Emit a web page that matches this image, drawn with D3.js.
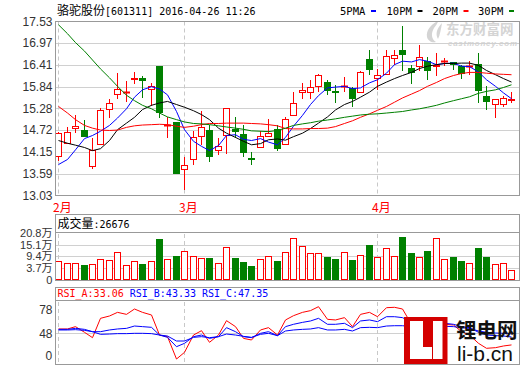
<!DOCTYPE html>
<html>
<head>
<meta charset="utf-8">
<script src="https://cdn.jsdelivr.net/npm/d3@7/dist/d3.min.js"></script>
<style>
  body { margin: 0; background: #fff; }
  svg { display: block; }
  text { font-family: "Liberation Sans", Arial, sans-serif; }
</style>
</head>
<body>
<div id="chart"></div>
<script>
// daily K-line, 2016-02 .. 2016-04-26
const opens  = [14.02,14.37,14.74,14.71,13.76,14.33,15.23,15.62,15.68,16.02,16.07,15.75,16.37,14.83,14.94,
                13.68,13.94,14.53,14.71,14.17,14.56,14.75,14.62,14.01,14.26,14.53,14.75,14.33,15.08,15.67,
                15.67,15.82,15.95,15.74,15.82,15.81,15.67,16.55,16.05,16.13,16.55,16.78,16.32,16.34,16.51,
                16.35,16.49,16.47,16.37,16.34,16.43,15.59,15.38,15.38,15.48];
const highs  = [14.66,14.80,15.10,14.98,14.52,15.29,15.52,16.19,15.98,16.22,16.11,15.93,16.37,15.07,14.94,
                14.02,14.69,15.20,14.84,14.52,15.28,15.06,14.84,14.15,14.69,15.01,14.84,15.07,15.70,15.93,
                16.01,16.17,16.01,15.89,16.08,15.82,16.24,16.79,16.29,16.80,16.79,17.40,16.41,16.91,16.60,
                16.71,16.58,16.48,16.41,16.51,16.71,15.85,15.51,15.59,15.70];
const lows   = [13.93,14.37,14.64,14.54,13.72,14.33,15.03,15.51,15.44,15.91,15.55,15.33,15.03,14.51,13.58,
                13.16,13.83,14.34,13.89,14.08,14.11,14.52,14.03,13.83,14.26,14.53,14.17,14.33,15.08,15.53,
                15.51,15.70,15.63,15.43,15.70,15.32,15.67,16.13,15.76,16.13,16.41,16.25,15.92,16.24,16.01,
                16.11,16.37,16.26,16.05,16.13,15.41,15.25,15.03,15.32,15.42];
const closes = [14.64,14.66,14.83,14.54,14.21,15.23,15.41,15.77,15.71,16.06,15.98,15.87,15.16,14.86,13.58,
                13.81,14.53,14.79,14.02,14.30,15.28,14.66,14.12,13.99,14.56,14.64,14.24,15.01,15.41,15.75,
                15.82,16.13,15.72,15.70,15.85,15.53,16.22,16.26,16.13,16.63,16.65,16.65,16.19,16.62,16.24,
                16.41,16.51,16.41,16.17,16.38,15.72,15.44,15.51,15.54,15.51];

// moving averages
const ma5  = [13.83,13.96,14.21,14.50,14.58,14.69,14.84,15.03,15.27,15.57,15.76,15.84,15.78,15.63,15.20,
              14.73,14.43,14.30,14.19,14.32,14.58,14.60,14.48,14.45,14.50,14.41,14.34,14.53,14.82,15.10,
              15.38,15.61,15.81,15.83,15.85,15.79,15.81,15.94,16.02,16.19,16.41,16.50,16.48,16.54,16.50,
              16.41,16.44,16.45,16.37,16.36,16.22,16.02,15.85,15.68,15.53];
const ma10 = [14.45,14.38,14.33,14.27,14.19,14.24,14.45,14.73,14.90,15.05,15.25,15.36,15.42,15.46,15.38,
              15.31,15.22,15.12,14.99,14.77,14.64,14.53,14.43,14.34,14.37,14.47,14.49,14.46,14.55,14.64,
              14.76,14.90,15.06,15.24,15.38,15.46,15.57,15.70,15.85,15.96,16.05,16.13,16.21,16.31,16.37,
              16.41,16.44,16.44,16.45,16.45,16.39,16.26,16.15,16.05,15.96];
const ma20 = [15.33,15.16,14.99,14.84,14.77,14.72,14.71,14.72,14.79,14.83,14.85,14.86,14.87,14.86,14.82,
              14.79,14.82,14.86,14.89,14.89,14.90,14.90,14.90,14.89,14.88,14.86,14.83,14.76,14.75,14.75,
              14.76,14.76,14.77,14.81,14.89,14.96,15.05,15.14,15.23,15.33,15.44,15.55,15.65,15.74,15.85,
              15.95,16.05,16.13,16.18,16.21,16.21,16.19,16.17,16.16,16.15];
const ma30 = [17.44,17.21,16.98,16.76,16.53,16.30,16.07,15.85,15.62,15.48,15.36,15.27,15.16,15.06,14.99,
              14.93,14.89,14.88,14.86,14.83,14.80,14.77,14.74,14.70,14.69,14.68,14.71,14.77,14.84,14.88,
              14.91,14.95,14.98,15.01,15.05,15.08,15.11,15.13,15.14,15.16,15.18,15.20,15.24,15.27,15.31,
              15.36,15.42,15.48,15.53,15.58,15.67,15.72,15.76,15.82,15.89];

// volume, 万手
const volumes = [7.18,6.05,6.05,5.25,5.73,7.98,7.50,11.36,5.08,7.02,5.73,7.02,17.80,7.98,9.59,
                 12.01,9.43,8.47,8.63,6.05,13.78,8.63,6.69,4.76,7.98,9.43,7.18,11.36,18.13,14.26,
                 10.88,10.88,9.11,8.14,11.36,7.66,9.91,14.91,8.95,13.30,9.43,18.77,11.04,8.95,12.01,
                 18.13,7.98,9.11,7.18,6.05,13.46,9.11,5.57,6.05,2.6676];

// RSI
const rsiA = [53.6,53.6,56.6,49.3,42.4,67.3,70.3,75.0,72.4,79.3,75.0,71.6,45.8,43.7,14.9,
              23.5,45.8,51.4,36.4,45.8,64.3,56.6,41.5,39.4,52.3,55.3,45.8,65.2,70.7,75.0,
              77.2,82.3,66.0,65.2,68.2,56.6,72.4,75.0,69.4,81.0,81.5,79.3,59.6,68.2,58.7,
              60.9,59.6,58.7,50.1,45.8,35.1,28.7,29.5,31.7,33.06];
const rsiB = [53.1,53.1,54.4,53.1,50.1,50.1,52.3,53.6,54.4,57.4,56.6,55.7,45.8,42.8,30.8,
              35.1,43.7,45.8,41.5,43.7,55.3,50.1,43.7,42.4,48.0,50.1,45.0,56.6,59.6,62.1,
              63.9,67.3,59.6,59.6,60.9,55.3,63.9,65.2,63.0,69.4,69.4,68.2,62.1,65.2,60.9,
              62.1,60.9,59.6,56.6,55.3,49.3,45.8,45.0,44.5,43.33];
const rsiC = [52.3,52.3,52.7,51.8,50.1,46.7,47.1,47.6,47.6,48.0,48.0,47.6,45.8,44.5,38.1,
              38.1,42.8,43.7,42.4,43.7,47.1,45.8,44.1,42.8,46.7,48.0,45.0,51.0,52.3,53.1,
              53.6,55.3,52.3,52.3,53.1,51.0,55.3,55.7,55.3,57.4,57.8,57.8,56.6,57.8,56.6,
              57.4,57.0,56.6,55.3,54.4,51.0,49.3,48.4,48.0,47.35];

const priceTicks = [13.03,13.59,14.15,14.72,15.28,15.84,16.41,16.97,17.53];
const volTicks = [3.7,9.4,15.1,20.8];
const rsiTicks = [78,48];
const monthLabels = ['2月','3月','4月'];
const monthStart = [0,15,38];
const maNames = ['5PMA','10PM','20PM','30PM'];
const maColors = ['#0000ff','#000000','#ff0000','#008000'];

const width = 520, height = 365;
const left = 55.5, right = 519.5;
const RED = '#ff0000', GREEN = '#008000', FRAME = '#999', GRID = '#d0d0d0';

const svg = d3.select('#chart').append('svg')
    .attr('width', width).attr('height', height)
    .attr('viewBox', [0, 0, width, height]);

const n = closes.length;
const x = d3.scaleBand()
    .domain(d3.range(n))
    .range([54.3, 54.3 + n * 8.385])
    .paddingInner(0.2).paddingOuter(0.1);
const cx = i => Math.round(x(i) + x.bandwidth() / 2) + 0.5;

const y = d3.scaleLinear().domain([13.03, 17.53]).range([195.5, 21.3]);
const yv = d3.scaleLinear().domain([-2.0, 20.8]).range([280, 232.8]);
const yr = d3.scaleLinear().domain([0, 100]).range([370.6, 292.93]);

// watermark
const wm = svg.append('g').attr('fill', '#d4d4d4');
wm.append('path')
    .attr('d', 'M438,21 C430,25 426,31 427,37 C428,41 432,43 436,42 C431,39 431,33 434,28 C436,25 438,23 438,21 Z M442,23 C437,28 435,34 438,39 C440,35 441,29 442,23 Z');
wm.append('text').attr('x', 446).attr('y', 33.5)
    .style('font-family', '"Noto Sans CJK SC"').attr('font-size', 13.5).attr('font-weight', 'bold')
    .text('东方财富网');
wm.append('text').attr('x', 448).attr('y', 46)
    .attr('font-size', 8).attr('font-weight', 'bold').attr('font-style', 'italic')
    .attr('textLength', 69)
    .text('eastmoney.com');

// title and legend
const title = svg.append('text').attr('x', 57).attr('y', 15).attr('fill', '#000');
title.append('tspan').style('font-family', '"Noto Sans CJK SC"').attr('font-size', 12).text('骆驼股份');
title.append('tspan').style('font-family', '"DejaVu Sans Mono"').attr('font-size', 10).text('[601311] 2016-04-26 11:26');

const legX = [340, 386.5, 432.5, 478];
maNames.forEach((m, k) => {
  svg.append('text').attr('x', legX[k]).attr('y', 15)
      .style('font-family', '"DejaVu Sans Mono"').attr('font-size', 10.5).text(m);
  svg.append('rect').attr('x', legX[k] + 31).attr('y', 10).attr('width', 5).attr('height', 2)
      .attr('fill', maColors[k]);
});

// ---------- price panel
const gridP = svg.append('g');
gridP.selectAll('line').data(priceTicks.slice(1, -1)).join('line')
    .attr('x1', left).attr('x2', right)
    .attr('y1', d => Math.round(y(d)) + 0.5).attr('y2', d => Math.round(y(d)) + 0.5)
    .attr('stroke', GRID);

function monthLines(top, bottom) {
  svg.append('g').selectAll('line').data(monthStart).join('line')
      .attr('x1', d => cx(d)).attr('x2', d => cx(d))
      .attr('y1', top).attr('y2', bottom)
      .attr('stroke', '#c8c8c8').attr('stroke-dasharray', '4,3');
}
monthLines(21.5, 195);

svg.append('g')
    .attr('transform', `translate(${left},0)`)
    .call(d3.axisLeft(y).tickValues(priceTicks).tickSize(0).tickPadding(3).tickFormat(d3.format('.2f')))
    .call(g => g.select('.domain').remove())
    .call(g => g.selectAll('text').attr('fill', '#333').attr('font-size', 12)
        .style('font-family', '"Liberation Sans", Arial, sans-serif'));

// candles
const candles = svg.append('g').selectAll('g').data(d3.range(n)).join('g');
candles.each(function(i) {
  const g = d3.select(this);
  const up = closes[i] >= opens[i];
  const c = up ? RED : GREEN;
  const top = Math.round(y(Math.max(opens[i], closes[i])));
  const bot = Math.round(y(Math.min(opens[i], closes[i])));
  const hi = Math.round(y(highs[i])), lo = Math.round(y(lows[i]));
  const bx = cx(i) - 3;
  if (up) {
    if (hi < top) g.append('line').attr('x1', cx(i)).attr('x2', cx(i)).attr('y1', hi).attr('y2', top).attr('stroke', c);
    if (lo > bot) g.append('line').attr('x1', cx(i)).attr('x2', cx(i)).attr('y1', bot).attr('y2', lo).attr('stroke', c);
    if (bot - top < 2) {
      g.append('line').attr('x1', bx - 0.5).attr('x2', bx + 6.5).attr('y1', top + 0.5).attr('y2', top + 0.5)
          .attr('stroke', c).attr('stroke-width', 2);
    } else {
      g.append('rect').attr('x', bx).attr('y', top + 0.5).attr('width', 6).attr('height', bot - top - 1)
          .attr('fill', '#fff').attr('stroke', c);
    }
  } else {
    g.append('line').attr('x1', cx(i)).attr('x2', cx(i)).attr('y1', hi).attr('y2', lo).attr('stroke', c);
    g.append('rect').attr('x', bx - 0.5).attr('y', top).attr('width', 7).attr('height', Math.max(2, bot - top))
        .attr('fill', c);
  }
});

// moving averages
[ma5, ma10, ma20, ma30].forEach((s, k) => {
  svg.append('path').datum(s)
      .attr('d', d3.line().x((d, i) => cx(i)).y(d => y(d)))
      .attr('fill', 'none').attr('stroke', maColors[k]).attr('stroke-width', 1);
});

// month labels
svg.append('g').selectAll('text').data(monthStart).join('text')
    .attr('x', d => cx(d) - 5.5).attr('y', 211.5)
    .attr('fill', RED).attr('font-size', 12)
    .style('font-family', '"Noto Sans CJK SC"')
    .text((d, k) => monthLabels[k]);

// ---------- volume panel
svg.append('g').selectAll('line').data(volTicks.slice(0, -1)).join('line')
    .attr('x1', left).attr('x2', right)
    .attr('y1', d => Math.round(yv(d)) + 0.5).attr('y2', d => Math.round(yv(d)) + 0.5)
    .attr('stroke', GRID);
monthLines(234, 280);

svg.append('g').selectAll('g').data(d3.range(n)).join('g').each(function(i) {
  const g = d3.select(this);
  const up = closes[i] >= opens[i];
  const top = Math.round(yv(volumes[i]));
  const base = yv.range()[0];
  if (up) {
    g.append('rect').attr('x', cx(i) - 3).attr('y', top + 0.5).attr('width', 6).attr('height', base - top - 1)
        .attr('fill', '#fff').attr('stroke', RED);
  } else {
    g.append('rect').attr('x', cx(i) - 3.5).attr('y', top).attr('width', 7).attr('height', base - top)
        .attr('fill', GREEN);
  }
});

svg.append('g')
    .attr('transform', `translate(${left},0)`)
    .call(d3.axisLeft(yv).tickValues(volTicks).tickSize(0).tickPadding(3).tickFormat(d => d.toFixed(1) + '万'))
    .call(g => g.select('.domain').remove())
    .call(g => g.selectAll('text').attr('fill', '#333').attr('font-size', 11)
        .style('font-family', '"Liberation Sans", "Noto Sans CJK SC", sans-serif'));
svg.append('text').attr('x', 52.3).attr('y', 283.5).attr('text-anchor', 'end')
    .attr('fill', '#333').attr('font-size', 11).text('0');

const vt = svg.append('text').attr('x', 57.5).attr('y', 227.5).attr('fill', '#000');
vt.append('tspan').style('font-family', '"Noto Sans CJK SC"').attr('font-size', 12).text('成交量');
vt.append('tspan').style('font-family', '"DejaVu Sans Mono"').attr('font-size', 10).text(':' + Math.round(volumes[n - 1] * 10000));

// ---------- RSI panel
svg.append('line').attr('x1', left).attr('x2', right)
    .attr('y1', Math.round(yr(48)) + 0.5).attr('y2', Math.round(yr(48)) + 0.5).attr('stroke', GRID);
monthLines(302, 364);

svg.append('g')
    .attr('transform', `translate(${left},0)`)
    .call(d3.axisLeft(yr).tickValues(rsiTicks).tickSize(0).tickPadding(3))
    .call(g => g.select('.domain').remove())
    .call(g => g.selectAll('text').attr('fill', '#333').attr('font-size', 12)
        .style('font-family', '"Liberation Sans", Arial, sans-serif'));
svg.append('text').attr('x', 52.3).attr('y', 360).attr('text-anchor', 'end')
    .attr('fill', '#333').attr('font-size', 12).text('0');

svg.append('defs').append('clipPath').attr('id', 'rsiClip')
    .append('rect').attr('x', left).attr('y', 301).attr('width', right - left).attr('height', 63);
const rsiSeries = [[rsiA, RED], [rsiB, '#0000ff'], [rsiC, '#0000ff']];
rsiSeries.forEach(([s, col]) => {
  svg.append('path').datum(s)
      .attr('clip-path', 'url(#rsiClip)')
      .attr('d', d3.line().x((d, i) => cx(i)).y(d => yr(d)))
      .attr('fill', 'none').attr('stroke', col).attr('stroke-width', 1);
});

const rt = svg.append('text').attr('x', 57.5).attr('y', 296.5)
    .style('font-family', '"DejaVu Sans Mono"').attr('font-size', 10);
rt.append('tspan').attr('fill', RED).text('RSI_A:' + rsiA[n - 1].toFixed(2));
rt.append('tspan').attr('fill', '#0000ff').attr('dx', 6).text('RSI_B:' + rsiB[n - 1].toFixed(2));
rt.append('tspan').attr('fill', '#0000ff').attr('dx', 6).text('RSI_C:' + rsiC[n - 1].toFixed(2));

// li-b.cn watermark
const lb = svg.append('g');
lb.append('rect').attr('x', 404).attr('y', 317).attr('width', 43.5).attr('height', 47).attr('fill', '#d40000');
lb.append('rect').attr('x', 410).attr('y', 321).attr('width', 13).attr('height', 38).attr('fill', '#fff');
lb.append('rect').attr('x', 410).attr('y', 347).attr('width', 22).attr('height', 12).attr('fill', '#fff');
lb.append('rect').attr('x', 433).attr('y', 321).attr('width', 9.5).attr('height', 38).attr('fill', '#fff');
lb.append('text').attr('x', 456).attr('y', 338)
    .style('font-family', '"Noto Sans CJK SC"').attr('font-size', 20.5).attr('font-weight', 'bold')
    .attr('fill', '#111').text('锂电网');
lb.append('text').attr('x', 457).attr('y', 361)
    .style('font-family', '"Liberation Sans", Arial, sans-serif').attr('font-size', 21)
    .attr('fill', '#111').text('li-b.cn');

// ---------- frames
const frame = svg.append('g').attr('fill', 'none').attr('stroke', FRAME);
frame.append('rect').attr('x', left).attr('y', 21.5).attr('width', right - left).attr('height', 174);
frame.append('rect').attr('x', left).attr('y', 214.5).attr('width', right - left).attr('height', 66);
frame.append('line').attr('x1', left).attr('x2', right).attr('y1', 232.5).attr('y2', 232.5);
frame.append('rect').attr('x', left).attr('y', 287.5).attr('width', right - left).attr('height', 77);
frame.append('line').attr('x1', left).attr('x2', right).attr('y1', 300.5).attr('y2', 300.5);
</script>
</body>
</html>
